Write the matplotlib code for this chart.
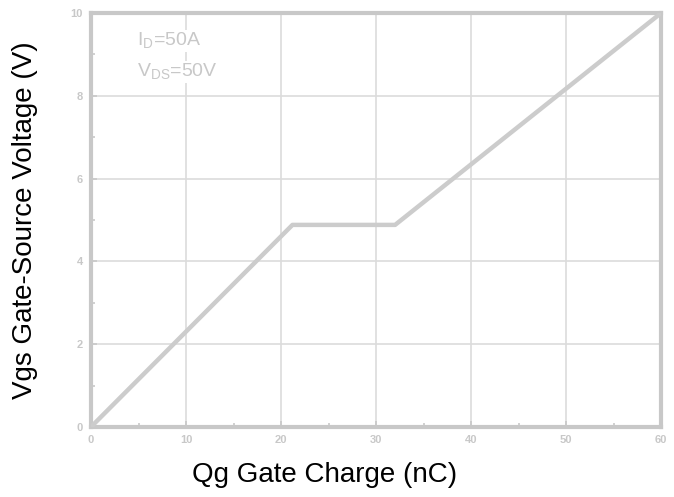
import matplotlib
matplotlib.use('Agg')
import matplotlib.pyplot as plt

# gate charge curve
qg = [0, 21.2, 32.0, 60]
vgs = [0, 4.88, 4.88, 10]

x_ticks = [0, 10, 20, 30, 40, 50, 60]
y_ticks = [0, 2, 4, 6, 8, 10]

plt.rcParams['font.family'] = ['Liberation Sans', 'DejaVu Sans']
gray = '#c8c8c8'

fig = plt.figure(figsize=(6.74, 4.97), dpi=100)
ax = fig.add_axes([0.135, 0.141, 0.846, 0.833])

ax.plot(qg, vgs, color='#cccccc', linewidth=3.2, solid_capstyle='butt', zorder=3)

ax.set_xlim(0, 60)
ax.set_ylim(0, 10)
ax.set_xticks(x_ticks)
ax.set_yticks(y_ticks)
ax.set_xticks([5, 15, 25, 35, 45, 55], minor=True)
ax.set_yticks([1, 3, 5, 7, 9], minor=True)
ax.grid(True, which='major', color='#dcdcdc', linewidth=1.2)
ax.tick_params(which='both', colors=gray, labelcolor=gray, labelsize=8, direction='in')
ax.tick_params(which='major', length=4, width=1.2, pad=6)
ax.tick_params(which='minor', length=3, width=1.2)
for lbl in ax.get_xticklabels() + ax.get_yticklabels():
    lbl.set_fontweight('bold')
for s in ax.spines.values():
    s.set_color(gray)
    s.set_linewidth(3)

ax.text(4.8, 9.2, 'I$_\\mathregular{D}$=50A', color=gray, fontsize=14,
        bbox=dict(facecolor='white', edgecolor='none', pad=0.5), zorder=4)
ax.text(4.8, 8.45, 'V$_\\mathregular{DS}$=50V', color=gray, fontsize=14,
        bbox=dict(facecolor='white', edgecolor='none', pad=0.5), zorder=4)

ax.set_xlabel('Qg Gate Charge (nC)', fontsize=20)
ax.xaxis.set_label_coords(0.409, -0.085)
ax.set_ylabel('Vgs Gate-Source Voltage (V)', fontsize=20, labelpad=23)

fig.savefig('out.png', dpi=100)
